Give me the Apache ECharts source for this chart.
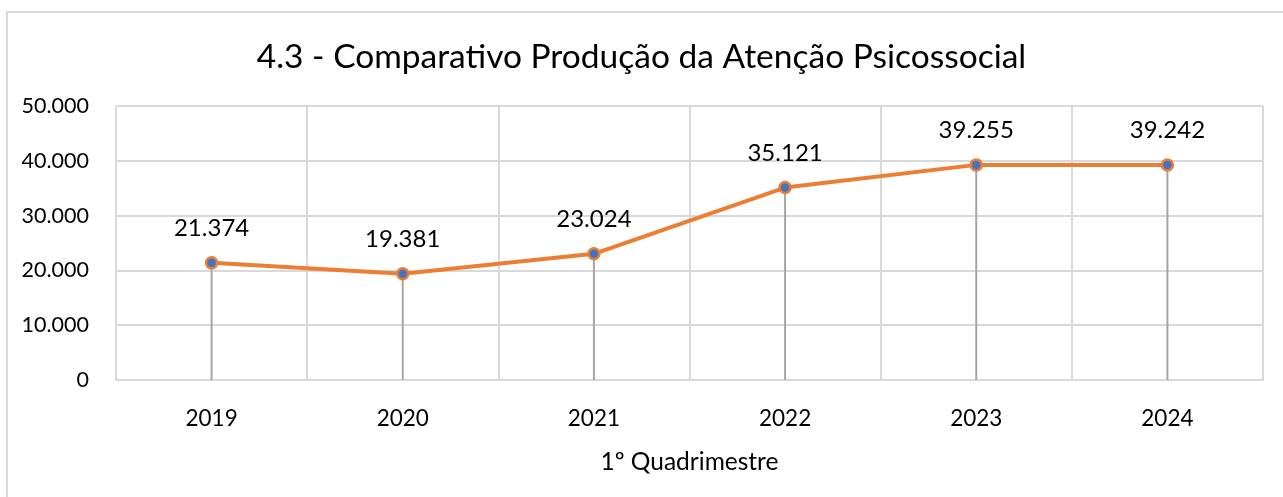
<!DOCTYPE html>
<html>
<head>
<meta charset="utf-8">
<script src="https://cdn.jsdelivr.net/npm/echarts@6/dist/echarts.min.js"></script>
<style>
  html, body { margin: 0; padding: 0; background: #fff; }
  #chart-container { width: 1283px; height: 497px; }
</style>
</head>
<body>
<div id="chart-container"></div>
<script>
var years = ['2019', '2020', '2021', '2022', '2023', '2024'];
var producao = [21374, 19381, 23024, 35121, 39255, 39242];
var yTicks = [0, 10000, 20000, 30000, 40000, 50000];

function fmt(v) {
  return String(v).replace(/\B(?=(\d{3})+(?!\d))/g, '.');
}

var chartDom = document.getElementById('chart-container');
var myChart = echarts.init(chartDom);
var font = 'Lato';

option = {
  animation: false,
  textStyle: { fontFamily: font },
  graphic: [
    {
      type: 'rect',
      shape: { x: 7, y: 12, width: 1290, height: 500 },
      style: { fill: 'none', stroke: '#d9d9d9', lineWidth: 2 }
    }
  ],
  title: {
    text: '4.3 - Comparativo Produção da Atenção Psicossocial',
    left: 'center',
    top: 35,
    textStyle: { fontSize: 33.5, fontWeight: 'normal', color: '#000', fontFamily: font }
  },
  grid: { left: 116, right: 20, top: 106, bottom: 117 },
  xAxis: {
    type: 'category',
    data: years,
    boundaryGap: true,
    name: '1º Quadrimestre',
    nameLocation: 'middle',
    nameGap: 70,
    nameTextStyle: { fontSize: 24.5, color: '#000' },
    axisLine: { lineStyle: { color: '#d9d9d9', width: 2 } },
    axisTick: { show: false },
    axisLabel: { fontSize: 22.5, color: '#000', margin: 27 },
    splitLine: { show: true, lineStyle: { color: '#d9d9d9', width: 2 } }
  },
  yAxis: {
    type: 'value',
    min: yTicks[0],
    max: yTicks[yTicks.length - 1],
    interval: yTicks[1] - yTicks[0],
    axisLine: { show: false },
    axisTick: { show: false },
    axisLabel: { fontSize: 21.5, color: '#000', margin: 27, formatter: fmt },
    splitLine: { lineStyle: { color: '#d9d9d9', width: 2 } }
  },
  series: [
    {
      type: 'bar',
      data: producao,
      barWidth: 2,
      itemStyle: { color: '#a5a5a5' },
      silent: true,
      z: 1
    },
    {
      type: 'line',
      data: producao,
      symbol: 'circle',
      symbolSize: 11,
      lineStyle: { color: '#ed7d31', width: 4 },
      itemStyle: { color: '#4472c4', borderColor: '#ed7d31', borderWidth: 2.5 },
      label: {
        show: true,
        position: 'top',
        distance: 16,
        fontSize: 24,
        color: '#000',
        formatter: function (p) { return fmt(p.value); }
      },
      z: 3
    }
  ]
};

option && myChart.setOption(option);
</script>
</body>
</html>
